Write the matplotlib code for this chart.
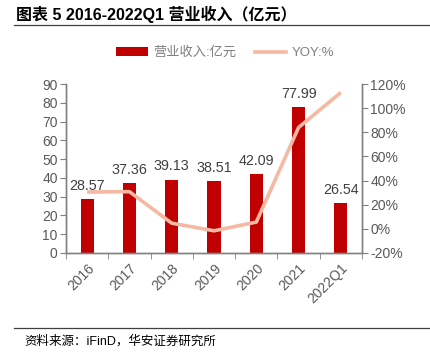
import matplotlib
matplotlib.use("Agg")
import matplotlib.pyplot as plt
from matplotlib.lines import Line2D
from matplotlib.patches import Patch
import numpy as np

plt.rcParams['font.family'] = ['Liberation Sans', 'Noto Sans CJK SC', 'DejaVu Sans']

categories = ['2016', '2017', '2018', '2019', '2020', '2021', '2022Q1']
revenue = [28.57, 37.36, 39.13, 38.51, 42.09, 77.99, 26.54]
yoy = [30.5, 30.8, 4.7, -1.6, 5.6, 84.0, 113.0]

bar_color = '#C00000'
line_color = '#F5B8A2'
gray = '#595959'
axis_gray = '#808080'

fig = plt.figure(figsize=(4.30, 3.59), dpi=100)
ax = fig.add_axes([0.1535, 0.2953, 0.8419 - 0.1535, 0.766 - 0.2953])
ax2 = ax.twinx()

x = np.arange(len(categories))
ax.bar(x, revenue, width=0.31, color=bar_color, zorder=2)
ax2.plot(x, yoy, color=line_color, lw=2.6, solid_capstyle='butt', solid_joinstyle='round', zorder=3)

for xi, v in zip(x, revenue):
    ax.annotate(f'{v:.2f}', (xi, v), xytext=(0, 6.5), textcoords='offset points',
                ha='center', va='baseline', fontsize=10.3, color='#404040')

ax.set_xlim(-0.5, len(categories) - 0.5)
ax.set_ylim(0, 90)
ax.set_yticks(np.arange(0, 91, 10))
ax2.set_ylim(-20, 120)
ax2.set_yticks(np.arange(-20, 121, 20))
ax2.set_yticklabels([f'{int(t)}%' for t in np.arange(-20, 121, 20)])

ax.set_xticks(x)
ax.set_xticklabels(categories, rotation=45, ha='right', rotation_mode='anchor')
ax.set_xticks(np.arange(-0.5, len(categories), 1), minor=True)
ax.tick_params(axis='x', which='major', length=0, pad=6, labelsize=10, labelcolor=gray)
ax.tick_params(axis='x', which='minor', length=4, color=axis_gray, direction='out')
ax.tick_params(axis='y', length=4, color=axis_gray, labelsize=10, labelcolor=gray, pad=2)
ax2.tick_params(axis='y', length=4, color=axis_gray, labelsize=10, labelcolor=gray, pad=2)

for a in (ax, ax2):
    a.spines['top'].set_visible(False)
    for s in ('left', 'right', 'bottom'):
        a.spines[s].set_color(axis_gray)
        a.spines[s].set_linewidth(1.0)

handles = [Patch(facecolor=bar_color, edgecolor='none'),
           Line2D([0], [0], color=line_color, lw=2.6)]
fig.legend(handles, ['营业收入:亿元', 'YOY:%'], loc='center', bbox_to_anchor=(225 / 430, 1 - 53 / 359),
           ncol=2, frameon=False, fontsize=9.5, labelcolor='#7f7f7f', handlelength=2.4, handleheight=0.6,
           columnspacing=1.4, handletextpad=0.4)

fig.text(16 / 430, 1 - 14 / 359, '图表 5 2016-2022Q1 营业收入（亿元）', fontsize=11.5, fontweight='bold',
         ha='left', va='center', color='#000000')
fig.add_artist(Line2D([14 / 430, 1.0], [1 - 25 / 359] * 2, color='#404040', lw=0.9))
fig.add_artist(Line2D([14 / 430, 1.0], [1 - 328 / 359] * 2, color='#404040', lw=0.9))
fig.text(24 / 430, 1 - 341 / 359, '资料来源：iFinD，华安证券研究所', fontsize=9, ha='left', va='center',
         color='#000000')

fig.savefig('out.png', dpi=100)
